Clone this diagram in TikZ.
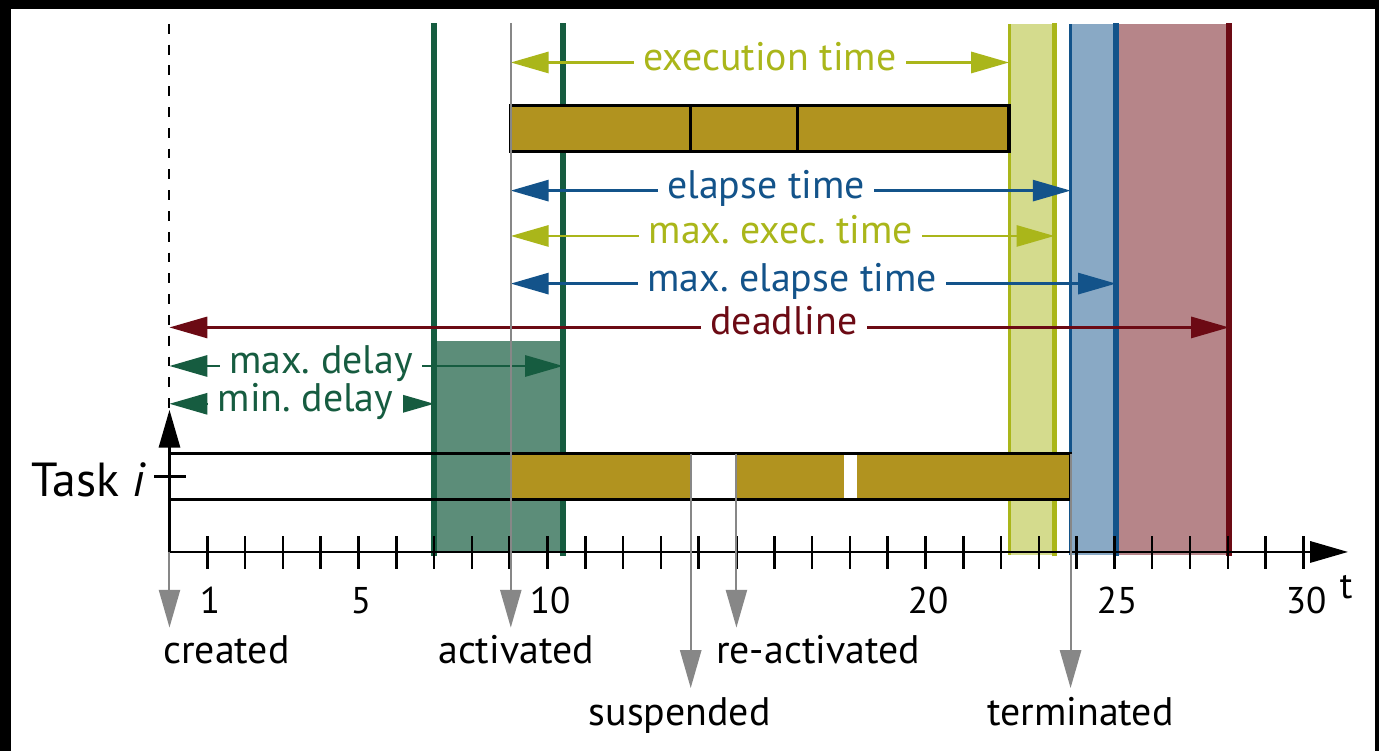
\documentclass[tikz,border=0pt]{standalone}
\usepackage{fontspec}
\setmainfont{PT Sans}
\usetikzlibrary{positioning,arrows.meta}
\frenchspacing

\definecolor{baroli}{RGB}{177,147,31}
\definecolor{dgreen}{RGB}{22,92,64}
\definecolor{lime}{RGB}{170,182,26}
\definecolor{dblue}{RGB}{19,83,138}
\definecolor{dred}{RGB}{108,10,20}
\definecolor{evgray}{RGB}{135,135,135}

\begin{document}
\begin{tikzpicture}[
  >={Triangle[length=1cm, width=0.56cm]},
  bigfont/.style={font=\fontsize{30}{34}\selectfont},
  annarr/.style={<->, line width=1.75pt},
  annlab/.style={bigfont, fill=white, inner xsep=7pt, inner ysep=1pt,
    anchor=base, yshift=-0.2cm},
  evarr/.style={->, evgray, line width=1.5pt},
  evlab/.style={bigfont, anchor=base, inner sep=0pt},
  numlab/.style={font=\fontsize{28}{32}\selectfont, anchor=base, inner sep=0pt},
  thick line/.style={line width=4pt},
  thin edge/.style={line width=2pt},
  barline/.style={line width=2.3pt}]
% frame
\fill[black] (-4.484,-5.265) rectangle (32.0,14.603);
\fill[white] (-4.193,-5.265) rectangle (31.892,14.365);
% bands
\fill[dgreen!70] (7,0) rectangle (10.41,5.58);
\fill[lime!50] (22.22,-0.08) rectangle (23.41,13.97);
\fill[dblue!50] (23.84,-0.08) rectangle (25.04,13.97);
\fill[dred!50] (25.04,-0.08) rectangle (28.03,13.97);
\draw[thin edge, lime] (22.22,-0.08) -- (22.22,13.97);
\draw[thin edge, dblue] (23.84,-0.08) -- (23.84,13.97);
\draw[thick line, dgreen] (7,-0.1) -- (7,14);
\draw[thick line, dgreen] (10.41,-0.1) -- (10.41,14);
\draw[thick line, lime] (23.41,-0.12) -- (23.41,14);
\draw[thick line, dblue] (25.04,-0.1) -- (25.04,14);
\draw[thick line, dred] (28.03,-0.1) -- (28.03,14);
% execution bar
\fill[baroli] (9.03,10.6) rectangle (22.21,11.8);
\draw[barline] (9.03,10.6) rectangle (22.21,11.8);
\draw[barline] (13.79,10.6) -- (13.79,11.8);
\draw[barline] (16.61,10.6) -- (16.61,11.8);
% task bar
\fill[baroli] (9.03,1.4) rectangle (13.79,2.6);
\fill[baroli] (15.0,1.4) rectangle (17.84,2.6);
\fill[baroli] (18.18,1.4) rectangle (23.84,2.6);
\draw[barline] (0,1.4) rectangle (23.84,2.6);
% axes
\coordinate (o) at (0,0);
\coordinate (xend) at (31.18,0);
\coordinate (yend) at (0,3.76);
\coordinate (ytop) at (0,13.97);
\draw[->, line width=1.9pt] (o) -- (xend);
\draw[->, line width=1.9pt] (o) -- (yend);
\draw[line width=1.5pt, dash pattern=on 0.26cm off 0.29cm] (ytop) -- (yend);
\foreach \t in {1,...,30}
  \draw[line width=1.9pt] (\t,0.42) -- (\t,-0.44);
\foreach \n in {1,5,10,20,25,30}
  \node[numlab] (n\n) at (\n+0.07,-1.64) {\n};
\node[numlab] (tlab) at (31.13,-1.22) {t};
\draw[line width=1.9pt] (-0.4,2) -- (0.45,2);
\node[anchor=base east, inner sep=0pt, font=\fontsize{36}{40}\selectfont]
  (task) at (-0.62,1.46) {Task \textit{i}};
% annotations
\foreach \nm/\col/\a/\b/\y/\p/\txt in {
    ex/lime/9.03/22.21/12.95/0.52/execution time,
    el/dblue/9.03/23.84/9.56/0.456/elapse time,
    mx/lime/9.03/23.41/8.36/0.497/max. exec. time,
    me/dblue/9.03/25.04/7.1/0.465/max. elapse time,
    dl/dred/0/28.03/5.94/0.58/deadline,
    xd/dgreen/0/10.41/4.92/0.385/max. delay,
    nd/dgreen/0/7/3.92/0.514/min. delay} {
  \coordinate (\nm1) at (\a,\y);
  \coordinate (\nm2) at (\b,\y);
  \draw[annarr, color=\col] (\nm1) -- node[annlab, pos=\p] (\nm) {\txt} (\nm2);
}
% events
\coordinate (cr1) at (0,0);
\coordinate (cr2) at (0,-2.0);
\coordinate (ac1) at (9.03,14);
\coordinate (ac2) at (9.03,-2.0);
\coordinate (su1) at (13.79,2.6);
\coordinate (su2) at (13.79,-3.6);
\coordinate (re1) at (15.0,2.6);
\coordinate (re2) at (15.0,-2.0);
\coordinate (te1) at (23.84,2.6);
\coordinate (te2) at (23.84,-3.6);
\foreach \a/\b in {cr1/cr2, ac1/ac2, su1/su2, re1/re2, te1/te2}
  \draw[evarr] (\a) -- (\b);
\node[evlab, anchor=base west] (created) at (-0.17,-2.96) {created};
\node[evlab] (activated) at (9.17,-2.96) {activated};
\node[evlab] (reactivated) at (17.16,-2.96) {re-activated};
\node[evlab] (suspended) at (13.5,-4.58) {suspended};
\node[evlab] (terminated) at (24.1,-4.58) {terminated};
\end{tikzpicture}
\end{document}
